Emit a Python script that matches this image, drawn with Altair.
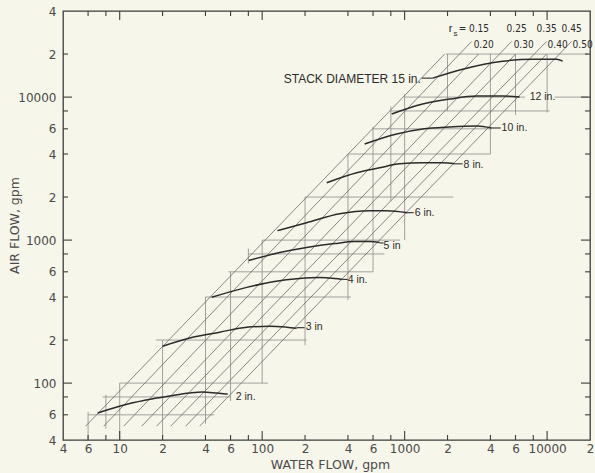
import altair as alt
import pandas as pd

BG = "#f7f6ea"
INK = "#2b2b2b"
FRAME = "#3c3c3c"
GRID = "#8c8c8c"
DIAG = "#6a6a6a"
TXT = "#4a4a4a"

# ---------------- data ----------------
# stack-diameter curves (water flow gpm, air flow gpm)
c2_w = [7.0, 11.4, 16.8, 22.4, 31.0, 38.2, 47.9, 57.3]
c2_a = [61.8, 71.4, 77.4, 81.2, 85.2, 86.6, 85.2, 83.8]
c3_w = [20.0, 32.5, 50.3, 77.9, 112.9, 148.6, 174.6]
c3_a = [181, 209, 227, 246, 250, 246, 242]
c4_w = [44.2, 77.9, 122, 183, 253, 323, 367]
c4_a = [398, 467, 514, 539, 548, 539, 531]
c5_w = [80.4, 133, 205, 323, 446, 568, 668]
c5_a = [720, 818, 887, 945, 976, 976, 961]
c6_w = [128, 205, 350, 568, 747, 1050]
c6_a = [1165, 1324, 1530, 1606, 1606, 1555]
c8_w = [284, 460, 668, 923, 1338, 1848, 2243]
c8_a = [2516, 2954, 3202, 3414, 3470, 3470, 3414]
c10_w = [524, 879, 1338, 2070, 3202, 4080]
c10_a = [4705, 5524, 5984, 6180, 6280, 6081]
c12_w = [811, 1338, 2070, 3202, 4872, 6412]
c12_a = [7611, 8938, 9685, 10163, 10163, 10000]
c15_w = [1573, 2553, 4872, 7911, 11662, 12850]
c15_a = [13567, 15672, 17824, 18404, 18404, 17824]

curve_names = ["2", "3", "4", "5", "6", "8", "10", "12", "15"]
curve_w = [c2_w, c3_w, c4_w, c5_w, c6_w, c8_w, c10_w, c12_w, c15_w]
curve_a = [c2_a, c3_a, c4_a, c5_a, c6_a, c8_a, c10_a, c12_a, c15_a]

# short leader dashes between curve ends and their labels
lead_w0 = [174.6, 367, 668, 1050, 2243, 4080, 1317]
lead_w1 = [198.7, 398, 712, 1157, 2553, 4720, 1573]
lead_a = [244, 531, 955, 1555, 3414, 6081, 13567]

# curve labels (left edge position)
lab_text = ["2 in.", "3 in", "4 in.", "5 in", "6 in.", "8 in.", "10 in.", "12 in."]
lab_w = [65.2, 202, 398, 712, 1176, 2594, 4794, 7539]
lab_a = [79.9, 245.6, 522, 916, 1555, 3358, 6081, 10000]
stack_text = ["STACK  DIAMETER  15 in."]
stack_w = [1300]
stack_a = [13350]

# r_s lines (diagonals)
rs_values = ["0.15", "0.20", "0.25", "0.30", "0.35", "0.40", "0.45", "0.50"]
diag_w0 = [5.77, 7.72, 10.67, 14.27, 18.18, 22.80, 29.06, 36.42]
diag_a0 = [50, 50, 50, 50, 50, 50, 50, 50]
diag_w1 = [1909, 2953, 3306, 5634, 6010, 9920, 9920, 14855]
diag_a1 = [20000, 24500, 20000, 24500, 20000, 24500, 20000, 24500]

# r_s labels
rs_lab_text = ["= 0.15", "0.25", "0.35", "0.45", "0.20", "0.30", "0.40", "0.50"]
rs_lab_w = [2393, 5196, 8440, 12640, 3050, 5821, 10080, 15100]
rs_lab_a = [29800, 29800, 29800, 29800, 23040, 23040, 23040, 23040]

# horizontal grid segments
h_air = [60, 80, 100, 200, 400, 600, 800, 1000, 2000, 4000, 6000, 8000, 10000, 10000, 20000]
h_w0 = [6, 7.6, 10, 18, 40, 58, 80, 100, 200, 400, 600, 790, 1000, 11300, 1950]
h_w1 = [46, 60, 110, 205, 420, 600, 720, 930, 2200, 4000, 4100, 10400, 7000, 19300, 19300]

# vertical grid segments
v_water = [6, 8, 10, 20, 40, 60, 80, 100, 200, 400, 600, 800, 1000, 2000, 4000, 6000, 10000]
v_a0 = [40, 48, 40, 40, 52, 75, 686, 100, 184, 380, 600, 1880, 1000, 8000, 4000, 7500, 7800]
v_a1 = [63, 83, 100, 200, 400, 600, 873, 1000, 2000, 4000, 6200, 8600, 10500, 20000, 20000, 20000, 20000]

# axis ticks / labels
x_label_vals = [4, 6, 10, 20, 40, 60, 100, 200, 400, 600, 1000, 2000, 4000, 6000, 10000, 20000]
y_label_vals = [40, 60, 100, 200, 400, 600, 1000, 2000, 4000, 6000, 10000, 20000, 40000]
x_minor_ticks = [6, 8, 20, 40, 60, 80, 200, 400, 600, 800, 2000, 4000, 6000, 8000]
x_major_ticks = [10, 100, 1000, 10000]
y_minor_ticks = [60, 80, 200, 400, 600, 800, 2000, 4000, 6000, 8000, 20000]
y_major_ticks = [100, 1000, 10000]

# ---------------- tables ----------------
rows = []
for n, ws, as_ in zip(curve_names, curve_w, curve_a):
    for i, (w, a) in enumerate(zip(ws, as_)):
        rows.append({"d": n, "i": i, "x": w, "y": a})
curves_df = pd.DataFrame(rows)

seg_rows = []
for a, w0, w1 in zip(h_air, h_w0, h_w1):
    seg_rows.append({"x": w0, "x2": w1, "y": a, "y2": a})
for w, a0, a1 in zip(v_water, v_a0, v_a1):
    seg_rows.append({"x": w, "x2": w, "y": a0, "y2": a1})
grid_df = pd.DataFrame(seg_rows)

lead_df = pd.DataFrame({"x": lead_w0, "x2": lead_w1, "y": lead_a, "y2": lead_a})
diag_df = pd.DataFrame({"x": diag_w0, "y": diag_a0, "x2": diag_w1, "y2": diag_a1, "rs": rs_values})
lab_df = pd.DataFrame({"x": lab_w, "y": lab_a, "t": lab_text})
stack_df = pd.DataFrame({"x": stack_w, "y": stack_a, "t": stack_text})
rs_df = pd.DataFrame({"x": rs_lab_w, "y": rs_lab_a, "t": rs_lab_text})
r_df = pd.DataFrame({"x": [2036], "y": [29800], "t": ["r"]})
s_df = pd.DataFrame({"x": [2207], "y": [27700], "t": ["s"]})

# ---------------- scales / axes ----------------
W, H = 527, 429
xs = alt.Scale(type="log", domain=[4, 20000], nice=False)
ys = alt.Scale(type="log", domain=[40, 40000], nice=False)

x_axis = alt.Axis(
    values=x_label_vals, format="d",
    labelExpr="indexof([10,100,1000,10000], datum.value) >= 0 ? datum.label : substring(datum.label, 0, 1)",
    ticks=False, tickSize=0, domain=False, grid=False,
    labelOverlap=False, labelFlush=False, labelPadding=3,
    labelFont="DejaVu Sans", labelFontSize=12, labelColor=TXT,
    title="WATER FLOW, gpm", titleFont="DejaVu Sans", titleFontSize=12.5,
    titleFontWeight="normal", titleColor=TXT,
    titleX=267, titleY=24, titleAlign="center", titleBaseline="middle",
)
y_axis = alt.Axis(
    values=y_label_vals, format="d",
    labelExpr="indexof([100,1000,10000], datum.value) >= 0 ? datum.label : substring(datum.label, 0, 1)",
    ticks=False, tickSize=0, domain=False, grid=False,
    labelOverlap=False, labelFlush=False, labelPadding=7,
    labelFont="DejaVu Sans", labelFontSize=12, labelColor=TXT,
    title="AIR FLOW, gpm", titleFont="DejaVu Sans", titleFontSize=12.5,
    titleFontWeight="normal", titleColor=TXT,
    titleX=-49, titleY=214, titleAngle=270, titleAlign="center", titleBaseline="middle",
)


def X(f="x"):
    return alt.X(f"{f}:Q", scale=xs, axis=x_axis)


def Y(f="y"):
    return alt.Y(f"{f}:Q", scale=ys, axis=y_axis)


grid = alt.Chart(grid_df).mark_rule(color=GRID, strokeWidth=0.8).encode(
    x=X(), y=Y(), x2="x2:Q", y2="y2:Q")

diags = alt.Chart(diag_df).mark_rule(color=DIAG, strokeWidth=0.8).encode(
    x=X(), y=Y(), x2="x2:Q", y2="y2:Q")

leaders = alt.Chart(lead_df).mark_rule(color=INK, strokeWidth=1.1).encode(
    x=X(), y=Y(), x2="x2:Q", y2="y2:Q")

curves = alt.Chart(curves_df).mark_line(color=INK, strokeWidth=1.5, interpolate="monotone").encode(
    x=X(), y=Y(), detail="d:N", order="i:O")

labels = alt.Chart(lab_df).mark_text(
    align="left", baseline="middle", font="Liberation Sans", fontSize=10.5, color=INK
).encode(x=X(), y=Y(), text="t:N")

stack = alt.Chart(stack_df).mark_text(
    align="right", baseline="middle", font="Liberation Sans", fontSize=12, color=INK
).encode(x=X(), y=Y(), text="t:N")

rs_font = "Liberation Sans Narrow, DejaVu Sans Condensed, Liberation Sans"
rs_labels = alt.Chart(rs_df).mark_text(
    align="left", baseline="middle", font=rs_font, fontSize=10, color=INK
).encode(x=X(), y=Y(), text="t:N")
r_lab = alt.Chart(r_df).mark_text(
    align="left", baseline="middle", font="Liberation Sans", fontSize=11, color=INK
).encode(x=X(), y=Y(), text="t:N")
s_lab = alt.Chart(s_df).mark_text(
    align="left", baseline="middle", font="Liberation Sans", fontSize=8, color=INK
).encode(x=X(), y=Y(), text="t:N")


# inward axis ticks on all four sides
def xticks(vals, length):
    df = pd.DataFrame({"x": vals})
    b = alt.Chart(df).mark_rule(color=FRAME, strokeWidth=1.1).encode(
        x=X(), y=alt.value(H), y2=alt.value(H - length))
    t = alt.Chart(df).mark_rule(color=FRAME, strokeWidth=1.1).encode(
        x=X(), y=alt.value(0), y2=alt.value(length))
    return [b, t]


def yticks(vals, length):
    df = pd.DataFrame({"y": vals})
    l = alt.Chart(df).mark_rule(color=FRAME, strokeWidth=1.1).encode(
        y=Y(), x=alt.value(0), x2=alt.value(length))
    r = alt.Chart(df).mark_rule(color=FRAME, strokeWidth=1.1).encode(
        y=Y(), x=alt.value(W), x2=alt.value(W - length))
    return [l, r]


tick_layers = xticks(x_minor_ticks, 5) + xticks(x_major_ticks, 9) + yticks(y_minor_ticks, 5) + yticks(y_major_ticks, 9)

chart = alt.layer(
    grid, diags, curves, leaders, labels, stack, rs_labels, r_lab, s_lab, *tick_layers
).properties(
    width=W, height=H,
    autosize=alt.AutoSizeParams(type="none"),
    padding={"left": 63, "top": 11, "right": 5, "bottom": 33},
).configure(background=BG).configure_view(stroke=FRAME, strokeWidth=1.3)

chart.save("out.html", embed_options={"renderer": "svg", "actions": False})
